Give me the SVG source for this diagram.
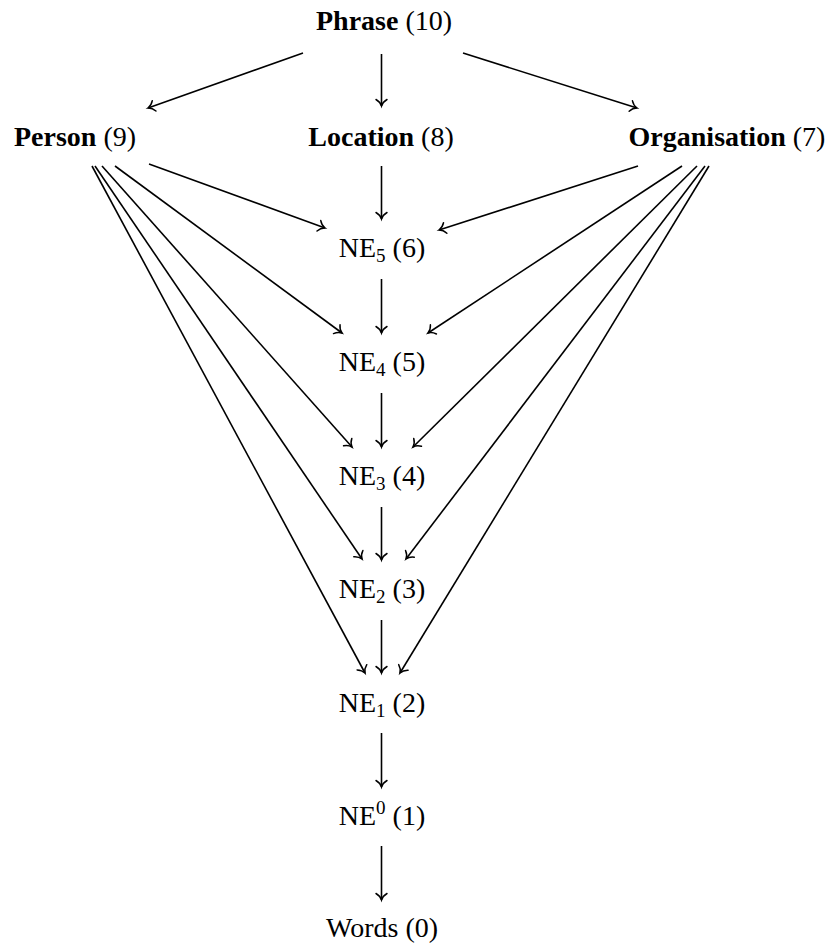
<svg xmlns="http://www.w3.org/2000/svg" width="835" height="946" viewBox="0 0 835 946">
<style>
text{font-family:'Liberation Serif','Times New Roman',Times,serif;font-size:28px;fill:#000;text-anchor:middle}
.b{font-weight:bold}
.s{font-size:19px}
line{stroke:#000;stroke-width:1.6;fill:none;marker-end:url(#to)}
</style>
<defs>
<marker id="to" markerUnits="userSpaceOnUse" viewBox="-8 -7 10 14" refX="0" refY="0" markerWidth="10" markerHeight="14" orient="auto" overflow="visible">
<path d="M -6.5 -5.5 C -4.5 -2 -1.3 -0.4 0 0 C -1.3 0.4 -4.5 2 -6.5 5.5" fill="none" stroke="#000" stroke-width="1.5" stroke-linecap="round"/>
</marker>
</defs>
<rect width="835" height="946" fill="#fff"/>
<g font-family="Liberation Serif, Times New Roman, serif">
<g id="phrase"><text x="384" y="30"><tspan class="b">Phrase</tspan> (10)</text></g>
<g id="person"><text x="75" y="146"><tspan class="b">Person</tspan> (9)</text></g>
<g id="location"><text x="381" y="146"><tspan class="b">Location</tspan> (8)</text></g>
<g id="organisation"><text x="727" y="146"><tspan class="b">Organisation</tspan> (7)</text></g>
<g id="ne5"><text x="382" y="257">NE<tspan class="s" dy="5">5</tspan><tspan dy="-5"> (6)</tspan></text></g>
<g id="ne4"><text x="382" y="371">NE<tspan class="s" dy="5">4</tspan><tspan dy="-5"> (5)</tspan></text></g>
<g id="ne3"><text x="382" y="485">NE<tspan class="s" dy="5">3</tspan><tspan dy="-5"> (4)</tspan></text></g>
<g id="ne2"><text x="382" y="598">NE<tspan class="s" dy="5">2</tspan><tspan dy="-5"> (3)</tspan></text></g>
<g id="ne1"><text x="382" y="712">NE<tspan class="s" dy="5">1</tspan><tspan dy="-5"> (2)</tspan></text></g>
<g id="ne0"><text x="382" y="825">NE<tspan class="s" dy="-11">0</tspan><tspan dy="11"> (1)</tspan></text></g>
<g id="words"><text x="382" y="937">Words (0)</text></g>
</g>
<g id="connectors">
<line x1="303" y1="53" x2="148" y2="108"/>
<line x1="381.5" y1="54" x2="381.5" y2="106"/>
<line x1="463" y1="53" x2="637" y2="108"/>
<line x1="381.5" y1="166" x2="381.5" y2="219"/>
<line x1="149" y1="164" x2="325" y2="228"/>
<line x1="115" y1="166" x2="342" y2="333"/>
<line x1="102" y1="166" x2="352" y2="447"/>
<line x1="95" y1="166" x2="362" y2="559"/>
<line x1="92" y1="166" x2="365" y2="673"/>
<line x1="638" y1="166" x2="439" y2="230"/>
<line x1="682" y1="166" x2="428" y2="333"/>
<line x1="697" y1="166" x2="413" y2="447"/>
<line x1="705" y1="166" x2="406" y2="559"/>
<line x1="709" y1="166" x2="400" y2="673"/>
<line x1="381.5" y1="279" x2="381.5" y2="333"/>
<line x1="381.5" y1="393" x2="381.5" y2="447"/>
<line x1="381.5" y1="507" x2="381.5" y2="560"/>
<line x1="381.5" y1="620" x2="381.5" y2="673"/>
<line x1="381.5" y1="733" x2="381.5" y2="787"/>
<line x1="381.5" y1="846" x2="381.5" y2="900"/>
</g>
</svg>
